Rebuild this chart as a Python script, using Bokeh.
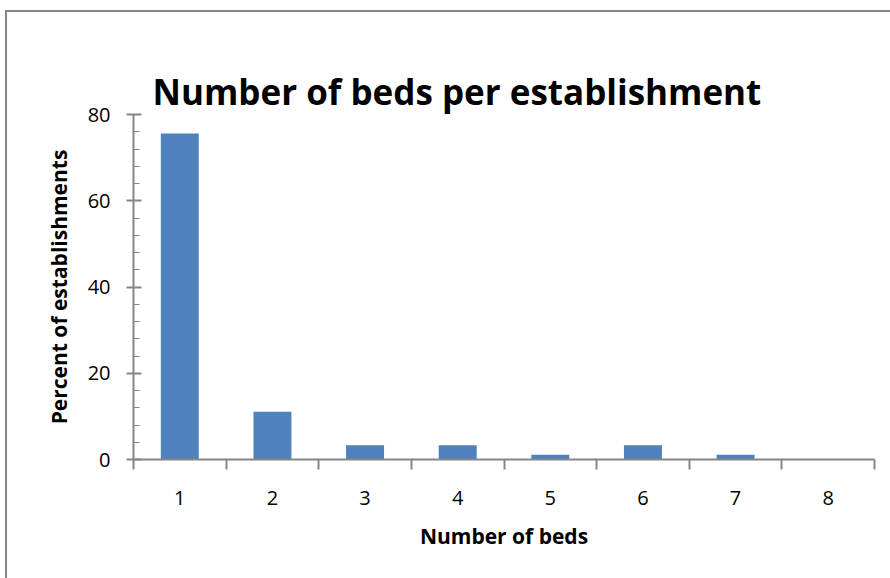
from bokeh.plotting import figure
from bokeh.models import FixedTicker, ColumnDataSource, Title
from bokeh.layouts import column
from bokeh.embed import file_html
from bokeh.resources import INLINE

# data
beds = [1, 2, 3, 4, 5, 6, 7, 8]
percent = [75.6, 11.1, 3.3, 3.3, 1.1, 3.3, 1.1, 0.0]
y_ticks = [0, 20, 40, 60, 80]
y_minor = [4, 8, 12, 16, 24, 28, 32, 36, 44, 48, 52, 56, 64, 68, 72, 76]
x_bounds = [0.5, 1.5, 2.5, 3.5, 4.5, 5.5, 6.5, 7.5, 8.5]
title_text = "Number of beds per establishment"
x_label = "Number of beds"
y_label = "Percent of establishments"

FONT = "Open Sans"
GRAY = "#868686"

# the figure sits inside a bordered box whose top-left is at (5, 10) in the page
OX, OY = 7, 12

src = ColumnDataSource(dict(x=beds, top=percent))

p = figure(width=890 - OX, height=578 - OY, output_backend="svg", toolbar_location=None,
           x_range=(0.5, 8.5), y_range=(0, 80), title=None,
           min_border_left=133 - OX, min_border_right=16, min_border_top=114 - OY,
           min_border_bottom=119)
p.outline_line_color = None
p.xgrid.grid_line_color = None
p.ygrid.grid_line_color = None

p.vbar(x="x", top="top", width=0.41, source=src, fill_color="#4F81BD", line_color=None)

# main title (added first -> placed farther from the frame)
main_title = Title(text=title_text, text_font=FONT, text_font_size="35px",
                   text_font_style="bold", text_color="black", align="left",
                   offset=19, vertical_align="bottom", standoff=0)
p.add_layout(main_title, "above")

# spacer between the title and the plot frame (added last -> nearest the frame)
spacer = Title(text=" ", text_font_size="1px", text_alpha=0, standoff=37.5)
p.add_layout(spacer, "above")

xa = p.xaxis[0]
xa.ticker = FixedTicker(ticks=beds, minor_ticks=x_bounds)
xa.major_tick_out = 0
xa.major_tick_in = 0
xa.minor_tick_out = 10
xa.minor_tick_in = 0
xa.minor_tick_line_color = GRAY
xa.axis_line_color = GRAY
xa.minor_tick_line_width = 2
xa.axis_line_width = 2
xa.major_label_text_font = FONT
xa.major_label_text_font_size = "20px"
xa.major_label_text_color = "black"
xa.major_label_standoff = 21
xa.axis_label = x_label
xa.axis_label_text_font = FONT
xa.axis_label_text_font_size = "21px"
xa.axis_label_text_font_style = "bold"
xa.axis_label_text_color = "black"
xa.axis_label_standoff = 14

ya = p.yaxis[0]
ya.ticker = FixedTicker(ticks=y_ticks, minor_ticks=y_minor)
ya.major_tick_out = 7
ya.major_tick_in = 8
ya.minor_tick_out = 0
ya.minor_tick_in = 6
ya.major_tick_line_color = GRAY
ya.minor_tick_line_color = GRAY
ya.axis_line_color = GRAY
ya.major_tick_line_width = 2
ya.minor_tick_line_width = 1
ya.axis_line_width = 2
ya.major_label_text_font = FONT
ya.major_label_text_font_size = "20px"
ya.major_label_text_color = "black"
ya.major_label_standoff = 16
ya.axis_label = y_label
ya.axis_label_text_font = FONT
ya.axis_label_text_font_size = "21px"
ya.axis_label_text_font_style = "bold"
ya.axis_label_text_color = "black"
ya.axis_label_standoff = 12

root = column(p)
root.styles = {"margin-left": "5px", "margin-top": "10px",
               "border-left": "2px solid #868686", "border-top": "2px solid #868686"}

open("out.html", "w").write(file_html(root, INLINE))
